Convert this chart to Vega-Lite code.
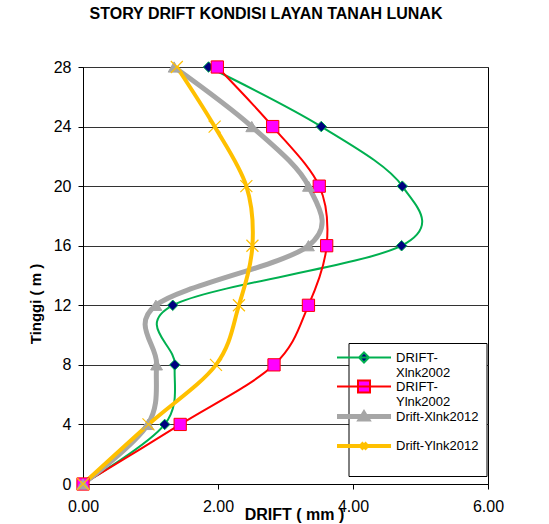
{
  "$schema": "https://vega.github.io/schema/vega-lite/v6.json",
  "width": 405,
  "height": 417,
  "autosize": {"type": "none"},
  "padding": {"left": 83, "top": 67, "right": 61, "bottom": 40},
  "background": "white",
  "title": {"text": "STORY DRIFT KONDISI LAYAN TANAH LUNAK", "font": "Liberation Sans", "fontSize": 16, "fontWeight": "bold", "color": "black", "anchor": "middle", "frame": "group", "dx": -19.5, "offset": 22, "baseline": "alphabetic"},
  "data": {"values": [
    {"s": "DRIFT-Xlnk2002", "drift": 0, "tinggi": 0},
    {"s": "DRIFT-Xlnk2002", "drift": 1.21, "tinggi": 4},
    {"s": "DRIFT-Xlnk2002", "drift": 1.36, "tinggi": 8},
    {"s": "DRIFT-Xlnk2002", "drift": 1.33, "tinggi": 12},
    {"s": "DRIFT-Xlnk2002", "drift": 4.72, "tinggi": 16},
    {"s": "DRIFT-Xlnk2002", "drift": 4.73, "tinggi": 20},
    {"s": "DRIFT-Xlnk2002", "drift": 3.53, "tinggi": 24},
    {"s": "DRIFT-Xlnk2002", "drift": 1.86, "tinggi": 28},
    {"s": "DRIFT-Ylnk2002", "drift": 0, "tinggi": 0},
    {"s": "DRIFT-Ylnk2002", "drift": 1.44, "tinggi": 4},
    {"s": "DRIFT-Ylnk2002", "drift": 2.83, "tinggi": 8},
    {"s": "DRIFT-Ylnk2002", "drift": 3.34, "tinggi": 12},
    {"s": "DRIFT-Ylnk2002", "drift": 3.61, "tinggi": 16},
    {"s": "DRIFT-Ylnk2002", "drift": 3.50, "tinggi": 20},
    {"s": "DRIFT-Ylnk2002", "drift": 2.81, "tinggi": 24},
    {"s": "DRIFT-Ylnk2002", "drift": 1.99, "tinggi": 28},
    {"s": "Drift-Xlnk2012", "drift": 0, "tinggi": 0},
    {"s": "Drift-Xlnk2012", "drift": 0.96, "tinggi": 4},
    {"s": "Drift-Xlnk2012", "drift": 1.09, "tinggi": 8},
    {"s": "Drift-Xlnk2012", "drift": 1.08, "tinggi": 12},
    {"s": "Drift-Xlnk2012", "drift": 3.34, "tinggi": 16},
    {"s": "Drift-Xlnk2012", "drift": 3.34, "tinggi": 20},
    {"s": "Drift-Xlnk2012", "drift": 2.50, "tinggi": 24},
    {"s": "Drift-Xlnk2012", "drift": 1.35, "tinggi": 28},
    {"s": "Drift-Ylnk2012", "drift": 0, "tinggi": 0},
    {"s": "Drift-Ylnk2012", "drift": 0.97, "tinggi": 4},
    {"s": "Drift-Ylnk2012", "drift": 1.97, "tinggi": 8},
    {"s": "Drift-Ylnk2012", "drift": 2.31, "tinggi": 12},
    {"s": "Drift-Ylnk2012", "drift": 2.51, "tinggi": 16},
    {"s": "Drift-Ylnk2012", "drift": 2.42, "tinggi": 20},
    {"s": "Drift-Ylnk2012", "drift": 1.95, "tinggi": 24},
    {"s": "Drift-Ylnk2012", "drift": 1.39, "tinggi": 28}
  ]},
  "encoding": {
    "x": {"field": "drift", "type": "quantitative", "scale": {"domain": [0, 6], "nice": false, "zero": false},
      "axis": {"title": "DRIFT ( mm )", "values": [0, 2, 4, 6], "format": ".2f", "grid": false, "tickSize": 5, "labelPadding": 9, "labelFontSize": 16, "labelFont": "Liberation Sans", "labelColor": "black", "domainColor": "black", "tickColor": "black", "labelFlush": false, "titleFont": "Liberation Sans", "titleFontSize": 16, "titleFontWeight": "bold", "titleColor": "black", "titleX": 211, "titleY": 35, "titleBaseline": "alphabetic", "titleAlign": "center"}},
    "y": {"field": "tinggi", "type": "quantitative", "scale": {"domain": [0, 28], "nice": false},
      "axis": {"title": "Tinggi ( m )", "values": [0, 4, 8, 12, 16, 20, 24, 28], "grid": true, "gridColor": "#333333", "gridWidth": 1, "tickSize": 5, "labelPadding": 7, "labelFontSize": 16, "labelFont": "Liberation Sans", "labelColor": "black", "domainColor": "black", "tickColor": "black", "labelFlush": false, "titleFont": "Liberation Sans", "titleFontSize": 15, "titleFontWeight": "bold", "titleColor": "black", "titleX": -43, "titleY": 236.5, "titleAngle": -90, "titleBaseline": "alphabetic", "titleAlign": "center"}}
  },
  "layer": [
    {"transform": [{"filter": "datum.s === 'DRIFT-Xlnk2002'"}], "mark": {"type": "line", "interpolate": "cardinal", "color": "#00B050", "strokeWidth": 2}, "encoding": {"order": {"field": "tinggi", "type": "quantitative"}}},
    {"transform": [{"filter": "datum.s === 'DRIFT-Ylnk2002'"}], "mark": {"type": "line", "interpolate": "cardinal", "color": "#FF0000", "strokeWidth": 2}, "encoding": {"order": {"field": "tinggi", "type": "quantitative"}}},
    {"transform": [{"filter": "datum.s === 'Drift-Xlnk2012'"}], "mark": {"type": "line", "interpolate": "cardinal", "color": "#A6A6A6", "strokeWidth": 5}, "encoding": {"order": {"field": "tinggi", "type": "quantitative"}}},
    {"transform": [{"filter": "datum.s === 'Drift-Ylnk2012'"}], "mark": {"type": "line", "interpolate": "cardinal", "color": "#FFC000", "strokeWidth": 4}, "encoding": {"order": {"field": "tinggi", "type": "quantitative"}}},
    {"transform": [{"filter": "datum.s === 'DRIFT-Xlnk2002'"}], "mark": {"type": "point", "shape": "diamond", "filled": true, "fill": "#000080", "stroke": "#00B050", "strokeWidth": 1, "size": 110, "opacity": 1}, "encoding": {}},
    {"transform": [{"filter": "datum.s === 'DRIFT-Ylnk2002'"}], "mark": {"type": "point", "shape": "square", "filled": true, "fill": "#FF00FF", "stroke": "#FF0000", "strokeWidth": 1, "size": 150, "opacity": 1}, "encoding": {}},
    {"transform": [{"filter": "datum.s === 'Drift-Xlnk2012'"}], "mark": {"type": "point", "shape": "triangle-up", "filled": true, "fill": "#A6A6A6", "stroke": "#A6A6A6", "strokeWidth": 1, "size": 140, "opacity": 1}, "encoding": {}},
    {"transform": [{"filter": "datum.s === 'Drift-Ylnk2012'"}], "mark": {"type": "point", "shape": "M-1,-1L1,1M-1,1L1,-1", "filled": false, "fill": "transparent", "stroke": "#FFC000", "strokeWidth": 1.2, "size": 144, "opacity": 1}, "encoding": {}},
    {"mark": {"type": "point", "opacity": 0, "filled": true},
      "encoding": {
        "fill": {"field": "s", "type": "nominal",
          "scale": {"domain": ["DRIFT-Xlnk2002", "DRIFT-Ylnk2002", "Drift-Xlnk2012", "Drift-Ylnk2012"], "range": ["#000080", "#FF00FF", "#A6A6A6", "transparent"]},
          "legend": {"title": null, "orient": "none", "legendX": 265.5, "legendY": 276, "padding": 8, "rowPadding": -12, "labelOffset": 24.5, "labelFontSize": 13, "labelFont": "Liberation Sans", "labelColor": "black", "labelBaseline": "middle", "labelLimit": 300, "strokeColor": "black", "fillColor": "white", "symbolSize": 100, "symbolOpacity": 1, "labelExpr": "datum.label === 'DRIFT-Xlnk2002' ? ['DRIFT-', 'Xlnk2002'] : datum.label === 'DRIFT-Ylnk2002' ? ['DRIFT-', 'Ylnk2002'] : [datum.label, '']"}},
        "stroke": {"field": "s", "type": "nominal",
          "scale": {"domain": ["DRIFT-Xlnk2002", "DRIFT-Ylnk2002", "Drift-Xlnk2012", "Drift-Ylnk2012"], "range": ["#00B050", "#FF0000", "#A6A6A6", "#FFC000"]},
          "legend": {"title": null, "orient": "none", "legendX": 265.5, "legendY": 276, "padding": 8, "rowPadding": -12, "labelOffset": 24.5, "labelFontSize": 13, "labelFont": "Liberation Sans", "labelColor": "black", "labelBaseline": "middle", "labelLimit": 300, "strokeColor": "black", "fillColor": "white", "symbolSize": 100, "symbolOpacity": 1, "labelExpr": "datum.label === 'DRIFT-Xlnk2002' ? ['DRIFT-', 'Xlnk2002'] : datum.label === 'DRIFT-Ylnk2002' ? ['DRIFT-', 'Ylnk2002'] : [datum.label, '']"}},
        "shape": {"field": "s", "type": "nominal",
          "scale": {"domain": ["DRIFT-Xlnk2002", "DRIFT-Ylnk2002", "Drift-Xlnk2012", "Drift-Ylnk2012"], "range": [
            "M-5.4,0L5.4,0M0,-1L1,0L0,1L-1,0Z",
            "M-5.4,0L5.4,0M-1.2,-1.2L1.2,-1.2L1.2,1.2L-1.2,1.2Z",
            "M-5.4,0L5.4,0M0,-0.55L0.65,0.5L-0.65,0.5Z",
            "M-5.4,0L5.4,0M-0.6,-0.6L0.6,0.6M-0.6,0.6L0.6,-0.6"]},
          "legend": {"title": null, "orient": "none", "legendX": 265.5, "legendY": 276, "padding": 8, "rowPadding": -12, "labelOffset": 24.5, "labelFontSize": 13, "labelFont": "Liberation Sans", "labelColor": "black", "labelBaseline": "middle", "labelLimit": 300, "strokeColor": "black", "fillColor": "white", "symbolSize": 100, "symbolOpacity": 1, "labelExpr": "datum.label === 'DRIFT-Xlnk2002' ? ['DRIFT-', 'Xlnk2002'] : datum.label === 'DRIFT-Ylnk2002' ? ['DRIFT-', 'Ylnk2002'] : [datum.label, '']"}},
        "strokeWidth": {"field": "s", "type": "nominal",
          "scale": {"type": "ordinal", "domain": ["DRIFT-Xlnk2002", "DRIFT-Ylnk2002", "Drift-Xlnk2012", "Drift-Ylnk2012"], "range": [2, 2, 5, 4]},
          "legend": {"title": null, "orient": "none", "legendX": 265.5, "legendY": 276, "padding": 8, "rowPadding": -12, "labelOffset": 24.5, "labelFontSize": 13, "labelFont": "Liberation Sans", "labelColor": "black", "labelBaseline": "middle", "labelLimit": 300, "strokeColor": "black", "fillColor": "white", "symbolSize": 100, "symbolOpacity": 1, "labelExpr": "datum.label === 'DRIFT-Xlnk2002' ? ['DRIFT-', 'Xlnk2002'] : datum.label === 'DRIFT-Ylnk2002' ? ['DRIFT-', 'Ylnk2002'] : [datum.label, '']"}}
      }}
  ],
  "config": {
    "view": {"stroke": "black", "strokeWidth": 1},
    "axis": {"domainWidth": 1, "tickWidth": 1}
  }
}
